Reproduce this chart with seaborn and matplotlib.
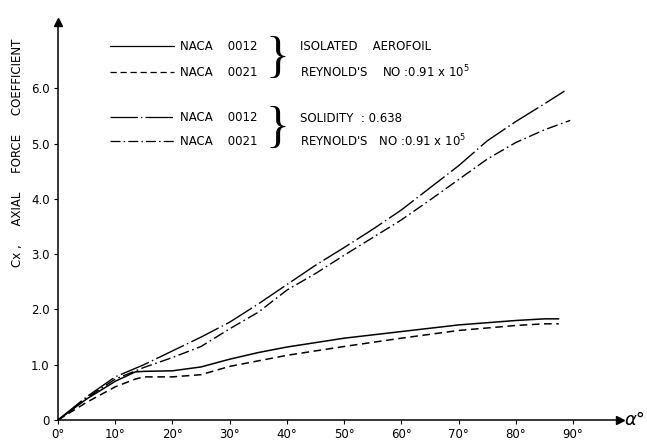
"""Axial force coefficient vs angle of attack, isolated aerofoil and cascade."""

import matplotlib.pyplot as plt
import seaborn as sns
from matplotlib.lines import Line2D

# angle of attack (deg) and Cx for each series
alpha_iso = [0, 5, 10, 13.5, 15, 20, 25, 30, 35, 40, 50, 60, 70, 80, 85, 87.5]
cx_iso_0012 = [0, 0.38, 0.70, 0.87, 0.88, 0.89, 0.96, 1.10, 1.22, 1.32,
               1.48, 1.60, 1.72, 1.80, 1.83, 1.83]
cx_iso_0021 = [0, 0.32, 0.60, 0.74, 0.78, 0.78, 0.82, 0.97, 1.07, 1.17,
               1.33, 1.48, 1.62, 1.71, 1.74, 1.74]

alpha_sol_0012 = [0, 5, 10, 15, 20, 25, 30, 35, 40, 45, 50, 55, 60, 65,
                  70, 75, 80, 85, 88.5]
cx_sol_0012 = [0, 0.42, 0.78, 1.00, 1.25, 1.50, 1.77, 2.10, 2.45, 2.80,
               3.12, 3.45, 3.80, 4.20, 4.60, 5.05, 5.40, 5.72, 5.95]
alpha_sol_0021 = [0, 5, 10, 15, 20, 25, 30, 35, 40, 45, 50, 55, 60, 65,
                  70, 75, 80, 85, 89.5]
cx_sol_0021 = [0, 0.40, 0.74, 0.95, 1.13, 1.33, 1.65, 1.95, 2.35, 2.65,
               2.98, 3.30, 3.62, 3.98, 4.35, 4.72, 5.02, 5.25, 5.42]

x_ticks = [0, 10, 20, 30, 40, 50, 60, 70, 80, 90]
y_ticks = [0, 1, 2, 3, 4, 5, 6]
y_tick_labels = ['0', '1.0', '2.0', '3.0', '4.0', '5.0', '6.0']

sns.set_style('ticks')
plt.rcParams['font.family'] = ['DejaVu Sans']
plt.rcParams.update({'text.color': 'k', 'xtick.color': 'k', 'ytick.color': 'k',
                     'axes.labelcolor': 'k'})

STYLES = {
    'iso_0012': '-',
    'iso_0021': (0, (5, 3)),
    'sol_0012': (0, (22, 2.5, 1, 2.5)),
    'sol_0021': (0, (8, 2.5, 1.2, 2.5)),
}
FS = 8.5

fig = plt.figure(figsize=(6.47, 4.43), dpi=100)
ax = fig.add_axes([58 / 647, 1 - 420 / 443, 562 / 647, 398 / 443])

sns.lineplot(x=alpha_iso, y=cx_iso_0012, ax=ax, color='k', lw=1.1,
             linestyle=STYLES['iso_0012'])
sns.lineplot(x=alpha_iso, y=cx_iso_0021, ax=ax, color='k', lw=1.1,
             linestyle=STYLES['iso_0021'])
sns.lineplot(x=alpha_sol_0012, y=cx_sol_0012, ax=ax, color='k', lw=1.0,
             linestyle=STYLES['sol_0012'])
sns.lineplot(x=alpha_sol_0021, y=cx_sol_0021, ax=ax, color='k', lw=1.0,
             linestyle=STYLES['sol_0021'])

ax.set_xlim(0, 98.2)
ax.set_ylim(0, 7.2)
ax.set_xticks(x_ticks)
ax.set_xticklabels([f'{d}°' for d in x_ticks], fontsize=FS)
ax.set_yticks(y_ticks)
ax.set_yticklabels(y_tick_labels, fontsize=FS)
ax.tick_params(length=3, width=0.8, color='k', pad=3)
sns.despine(ax=ax)
for s in ['left', 'bottom']:
    ax.spines[s].set_linewidth(1.1)
    ax.spines[s].set_color('k')

# arrow heads on the axes
ax.plot(1, 0, '>k', ms=6, transform=ax.transAxes, clip_on=False)
ax.plot(0, 1, '^k', ms=6, transform=ax.transAxes, clip_on=False)

ax.set_xlabel('')
ax.set_ylabel('')
fig.text(18 / 647, 1 - 153 / 443, 'Cx ,     AXIAL     FORCE     COEFFICIENT',
         rotation=90, ha='center', va='center', fontsize=FS)
fig.text(624 / 647, 1 - 420 / 443, 'α°', fontsize=13, style='italic',
         ha='left', va='center')

# legends
def handle(key, lw):
    return Line2D([], [], color='k', lw=lw, linestyle=STYLES[key])

leg_kw = dict(frameon=False, fontsize=FS, handlelength=5.4, handletextpad=0.5,
              borderpad=0, borderaxespad=0, loc='upper left',
              bbox_transform=fig.transFigure)
leg1 = ax.legend([handle('iso_0012', 0.9), handle('iso_0021', 0.9)],
                 ['NACA    0012', 'NACA    0021'], labelspacing=1.1,
                 bbox_to_anchor=(110 / 647, 1 - 40 / 443), **leg_kw)
ax.add_artist(leg1)
ax.legend([handle('sol_0012', 0.9), handle('sol_0021', 0.9)],
          ['NACA    0012', 'NACA    0021'], labelspacing=0.95,
          bbox_to_anchor=(110 / 647, 1 - 111 / 443), **leg_kw)

for yc in [59, 129]:
    fig.text(277 / 647, 1 - yc / 443, '}', fontsize=36, family='Liberation Serif',
             ha='center', va='center')

notes = [(47, 'ISOLATED    AEROFOIL'),
         (72, "REYNOLD'S    NO :0.91 x 10$^5$"),
         (118, 'SOLIDITY  : 0.638'),
         (141, "REYNOLD'S   NO :0.91 x 10$^5$")]
for yc, txt in notes:
    fig.text(300 / 647, 1 - yc / 443, txt, fontsize=FS, ha='left', va='center')

fig.savefig('out.png', dpi=100)
